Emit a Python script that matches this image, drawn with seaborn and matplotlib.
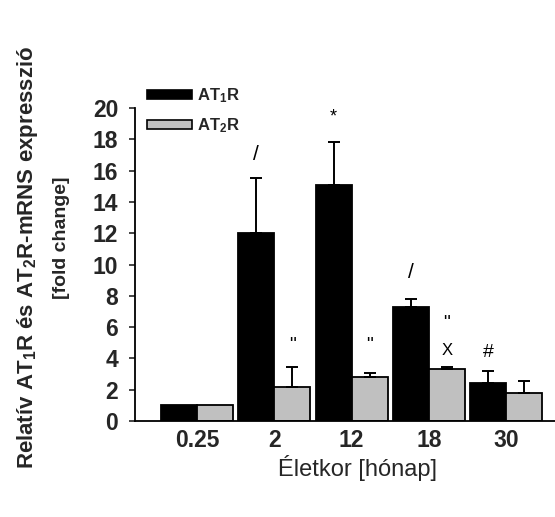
import matplotlib
matplotlib.use('Agg')
import matplotlib.pyplot as plt
import matplotlib.patches as mpatches
import seaborn as sns
import pandas as pd

# ---- data ----
ages = ['0.25', '2', '12', '18', '30']
series = ['AT1R', 'AT2R']
at1r = [1.0, 12.0, 15.1, 7.3, 2.4]
at1r_err = [0.0, 3.5, 2.7, 0.5, 0.8]
at2r = [1.0, 2.15, 2.8, 3.3, 1.8]
at2r_err = [0.0, 1.3, 0.27, 0.15, 0.75]
yticks = [0, 2, 4, 6, 8, 10, 12, 14, 16, 18, 20]

# significance marks: (group index, series index, y value, text)
ann_group = [1, 2, 1, 2, 3, 3, 3, 4]
ann_series = [0, 0, 1, 1, 0, 1, 1, 0]
ann_y = [17.0, 19.4, 4.85, 4.85, 9.5, 6.25, 4.5, 4.35]
ann_text = ['/', '*', '"', '"', '/', '"', 'X', '#']

df = pd.DataFrame({
    'age': ages * 2,
    'receptor': [series[0]] * len(ages) + [series[1]] * len(ages),
    'value': at1r + at2r,
})

sns.set_style('ticks')
plt.rcParams['font.family'] = ['Liberation Sans', 'DejaVu Sans']
plt.rcParams['mathtext.fontset'] = 'custom'
plt.rcParams['mathtext.rm'] = 'Liberation Sans:bold'
plt.rcParams['mathtext.it'] = 'Liberation Sans:bold'
plt.rcParams['mathtext.bf'] = 'Liberation Sans:bold'

W, H = 555, 517
fig = plt.figure(figsize=(W / 100, H / 100), dpi=100)
ax = fig.add_axes([135 / W, 1 - 421 / H, (W - 135) / W, (421 - 108) / H])

colors = ['#000000', '#c0c0c0']
sns.barplot(data=df, x='age', y='value', hue='receptor', order=ages,
            hue_order=series, palette=colors, edgecolor='black',
            linewidth=1.3, width=0.93, gap=0, errorbar=None, legend=False, ax=ax)

errs = [at1r_err, at2r_err]
vals = [at1r, at2r]
bar_conts = list(ax.containers)
centers = {}
for si, cont in enumerate(bar_conts):
    for gi, bar in enumerate(cont.patches):
        cx = bar.get_x() + bar.get_width() / 2
        centers[(gi, si)] = cx
        e = errs[si][gi]
        if e > 0:
            ax.errorbar([cx], [vals[si][gi]], yerr=[[0], [e]], fmt='none',
                        ecolor='black', elinewidth=1.4, capsize=4.5,
                        capthick=1.4, zorder=1)

ann_size = {'/': 15, '*': 13, '"': 14, 'X': 12, '#': 14}
for g, s, y, t in zip(ann_group, ann_series, ann_y, ann_text):
    ax.text(centers[(g, s)], y, t, ha='center', va='center',
            fontsize=ann_size[t], color='black')

ax.set_xlim(-0.80, 4.63)
ax.set_ylim(0, 20)
ax.set_yticks(yticks)
ax.set_yticklabels([str(v) for v in yticks], fontsize=16.5, fontweight='bold')
ax.set_xticks(range(len(ages)))
ax.set_xticklabels(ages, fontsize=16.5, fontweight='bold')
ax.tick_params(axis='y', length=4, width=1.2, pad=8, direction='out')
ax.tick_params(axis='x', length=0, pad=6)
ax.set_xlabel('')
ax.set_ylabel('')
for sp in ['top', 'right']:
    ax.spines[sp].set_visible(False)
for sp in ['left', 'bottom']:
    ax.spines[sp].set_linewidth(1.3)
    ax.spines[sp].set_color('black')

handles = [mpatches.Patch(facecolor=colors[0], edgecolor='black', linewidth=1.2),
           mpatches.Patch(facecolor=colors[1], edgecolor='black', linewidth=1.2)]
labels = ['AT$_1$R', 'AT$_2$R']
leg = fig.legend(handles, labels, loc='upper left',
                 bbox_to_anchor=(147 / W, 1 - 86 / H), frameon=False,
                 handlelength=2.7, handleheight=0.45, handletextpad=0.3,
                 labelspacing=0.7, borderpad=0, borderaxespad=0,
                 prop={'size': 12, 'weight': 'bold'})

fig.text(358 / W, 1 - 468 / H, 'Életkor [hónap]', ha='center', va='center',
         fontsize=17)
fig.text(28 / W, 1 - 257 / H, 'Relatív AT$_1$R és AT$_2$R-mRNS expresszió',
         rotation=90, ha='center', va='center', fontsize=16, fontweight='bold')
fig.text(62 / W, 1 - 238 / H, '[fold change]', rotation=90, ha='center',
         va='center', fontsize=14, fontweight='bold')

fig.savefig('out.png', dpi=100)
